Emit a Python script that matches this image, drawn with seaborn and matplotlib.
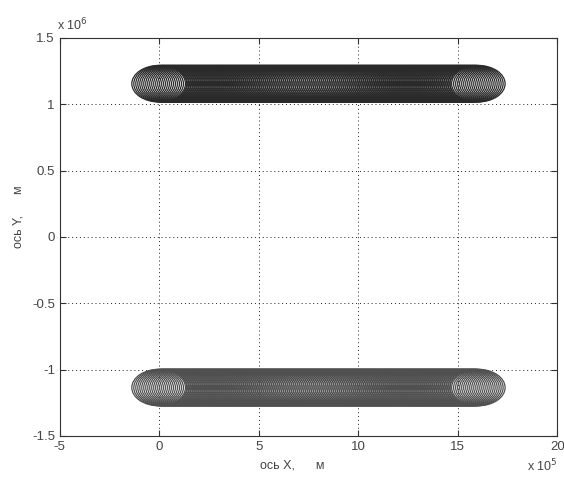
import matplotlib
matplotlib.use("Agg")
import matplotlib.pyplot as plt
import seaborn as sns
from matplotlib.patches import Circle

sns.set_theme(style="white")
plt.rcParams["font.family"] = ["Liberation Sans", "DejaVu Sans"]

# circle centres along each track, km
track_x_km = [
    0, 10, 20, 30, 40, 50, 60, 70, 80, 90,
    100, 110, 120, 130, 140, 150, 160, 170, 180, 190,
    200, 210, 220, 230, 240, 250, 260, 270, 280, 290,
    300, 310, 320, 330, 340, 350, 360, 370, 380, 390,
    400, 410, 420, 430, 440, 450, 460, 470, 480, 490,
    500, 510, 520, 530, 540, 550, 560, 570, 580, 590,
    600, 610, 620, 630, 640, 650, 660, 670, 680, 690,
    700, 710, 720, 730, 740, 750, 760, 770, 780, 790,
    800, 810, 820, 830, 840, 850, 860, 870, 880, 890,
    900, 910, 920, 930, 940, 950, 960, 970, 980, 990,
    1000, 1010, 1020, 1030, 1040, 1050, 1060, 1070, 1080, 1090,
    1100, 1110, 1120, 1130, 1140, 1150, 1160, 1170, 1180, 1190,
    1200, 1210, 1220, 1230, 1240, 1250, 1260, 1270, 1280, 1290,
    1300, 1310, 1320, 1330, 1340, 1350, 1360, 1370, 1380, 1390,
    1400, 1410, 1420, 1430, 1440, 1450, 1460, 1470, 1480, 1490,
    1500, 1510, 1520, 1530, 1540, 1550, 1560, 1570, 1580, 1590,
    1600,
]
upper_y_km = 1155
lower_y_km = -1135
radius_km = 138

x_ticks = [-5, 0, 5, 10, 15, 20]
y_ticks = [-1.5, -1, -0.5, 0, 0.5, 1, 1.5]

fig = plt.figure(figsize=(5.64, 4.79), dpi=100)
ax = fig.add_axes([0.106, 0.0898, 0.882, 0.831])

for xc in track_x_km:
    ax.add_patch(Circle((xc * 1e3, upper_y_km * 1e3), radius_km * 1e3,
                        fill=False, edgecolor="#2a2a2a", linewidth=0.9))
    ax.add_patch(Circle((xc * 1e3, lower_y_km * 1e3), radius_km * 1e3,
                        fill=False, edgecolor="#505050", linewidth=0.9))

ax.set_xlim(-5e5, 2e6)
ax.set_ylim(-1.5e6, 1.5e6)
ax.set_xticks([t * 1e5 for t in x_ticks])
ax.set_xticklabels([f"{t:g}" for t in x_ticks])
ax.set_yticks([t * 1e6 for t in y_ticks])
ax.set_yticklabels([f"{t:g}" for t in y_ticks])
ax.tick_params(direction="in", length=4, width=0.8, colors="#333333",
               labelsize=9.5, labelcolor="#444444", top=True, right=True,
               bottom=True, left=True)
ax.grid(True, color="#222222", linestyle=(0, (1, 3)), linewidth=0.7)
for s in ax.spines.values():
    s.set_color("#333333")
    s.set_linewidth(0.8)

ax.text(0.467, -0.075, "ось X,      м", transform=ax.transAxes, ha="center",
        va="center", fontsize=9, color="#444444")
ax.text(-0.083, 0.55, "ось Y,      м", transform=ax.transAxes, ha="center",
        va="center", rotation=90, fontsize=9, color="#444444")
ax.text(-0.006, 1.012, r"x 10$^{6}$", transform=ax.transAxes, ha="left",
        va="bottom", fontsize=9, color="#444444")
ax.text(0.94, -0.075, r"x 10$^{5}$", transform=ax.transAxes, ha="left",
        va="center", fontsize=9, color="#444444")

fig.savefig("out.png", dpi=100)
plt.close(fig)
